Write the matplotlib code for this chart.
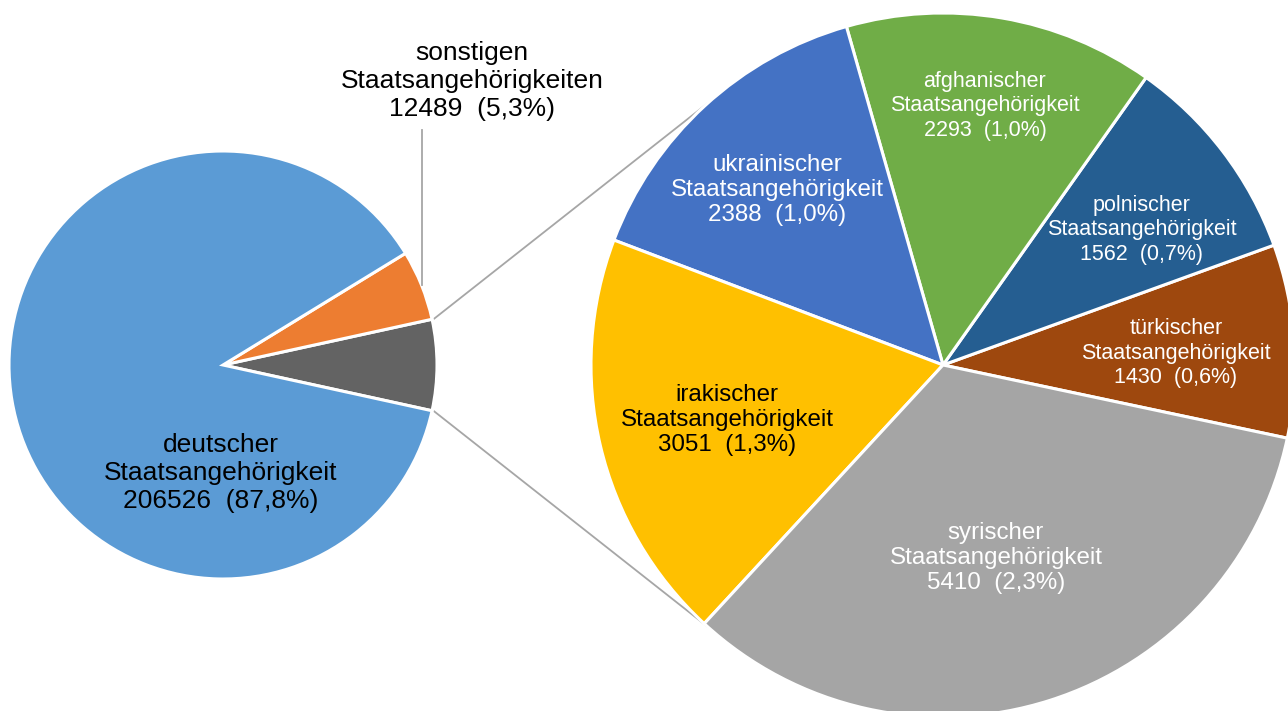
import numpy as np
import matplotlib.pyplot as plt

plt.rcParams['font.family'] = ['Liberation Sans', 'DejaVu Sans']

# Main pie: German citizens, other citizenships (the rest goes to the detail pie)
main_names = ['deutscher\nStaatsangehörigkeit', 'sonstigen\nStaatsangehörigkeiten']
main_values = [206526, 12489]
main_colors = ['#5B9BD5', '#ED7D31']
rest_color = '#636363'

# Detail pie, counterclockwise order
detail_names = ['türkischer', 'polnischer', 'afghanischer', 'ukrainischer', 'irakischer', 'syrischer']
detail_values = [1430, 1562, 2293, 2388, 3051, 5410]
detail_colors = ['#9E480E', '#255E91', '#70AD47', '#4472C4', '#FFC000', '#A5A5A5']

rest = sum(detail_values)
total = sum(main_values) + rest


def label(value):
    pct = f"{100 * value / total:.1f}".replace('.', ',')
    return f"{value}  ({pct}%)"


W, H = 1288, 711
fig = plt.figure(figsize=(W / 100, H / 100), dpi=100)
ax = fig.add_axes([0, 0, 1, 1])

# pie geometry (pixel units, y up)
c1, r1 = (223, H - 365), 214
c2, r2 = (943, H - 365), 352
rest_deg = 360 * rest / total

wp = dict(edgecolor='white', linewidth=2.2)
ax.pie([rest, main_values[1], main_values[0]],
       colors=[rest_color, main_colors[1], main_colors[0]],
       startangle=-rest_deg / 2, center=c1, radius=r1, wedgeprops=wp)
ax.pie(detail_values, colors=detail_colors, startangle=-12,
       center=c2, radius=r2, wedgeprops=wp)

ax.set_xlim(0, W)
ax.set_ylim(0, H)
ax.set_axis_off()

# connector lines between the pies
for sign in (1, -1):
    a1 = np.radians(sign * rest_deg / 2)
    a2 = np.radians(sign * 132)
    ax.plot([c1[0] + (r1 + 2) * np.cos(a1), c2[0] + r2 * np.cos(a2)],
            [c1[1] + (r1 + 2) * np.sin(a1), c2[1] + r2 * np.sin(a2)],
            color='#A6A6A6', lw=1.3, zorder=0)

# leader line for "sonstigen" from the middle of the orange slice
mid = np.radians(rest_deg / 2 + 180 * main_values[1] / total)
lx = c1[0] + (r1 + 1) * np.cos(mid)
ly = c1[1] + (r1 + 1) * np.sin(mid)
ax.plot([lx, lx], [ly, H - 130], color='#A6A6A6', lw=1.3)

# labels: (x, y in image pixels, color, size)
txt = dict(ha='center', va='center', multialignment='center', linespacing=1.2)
ax.text(221, H - 473, main_names[0] + '\n' + label(main_values[0]),
        color='black', fontsize=19, **txt)
ax.text(472, H - 81, main_names[1] + '\n' + label(main_values[1]),
        color='black', fontsize=19, **txt)

detail_pos = [(1176, 353, 'white', 15.5), (1142, 230, 'white', 15.5),
              (985, 106, 'white', 15.5), (777, 190, 'white', 17.4),
              (727, 420, 'black', 17.4), (996, 558, 'white', 17.4)]
for name, val, (x, y, col, fs) in zip(detail_names, detail_values, detail_pos):
    ax.text(x, H - y, name + '\nStaatsangehörigkeit\n' + label(val),
            color=col, fontsize=fs, **txt)

fig.savefig('out.png', dpi=100)
